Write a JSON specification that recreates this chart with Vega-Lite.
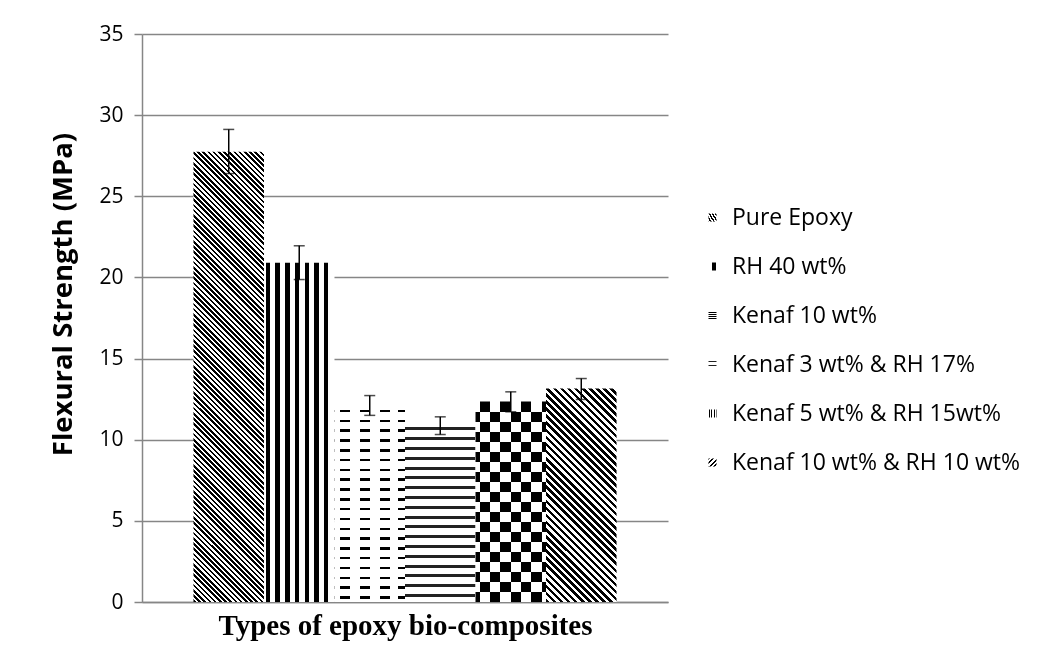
{
  "$schema": "https://vega.github.io/schema/vega-lite/v6.json",
  "autosize": {"type": "none"},
  "padding": {"left": 142, "top": 34, "right": 379, "bottom": 68},
  "width": 526,
  "height": 568,
  "background": "white",
  "config": {"view": {"stroke": null}, "font": "Open Sans"},
  "data": {
    "values": [
      {"Type": "Pure Epoxy", "Strength": 27.75, "Lower": 26.4, "Upper": 29.12},
      {"Type": "RH 40 wt%", "Strength": 20.9, "Lower": 19.87, "Upper": 21.95},
      {"Type": "Kenaf 10 wt%", "Strength": 12.08, "Lower": 11.5, "Upper": 12.72},
      {"Type": "Kenaf 3 wt% & RH 17%", "Strength": 10.87, "Lower": 10.32, "Upper": 11.41},
      {"Type": "Kenaf 5 wt% & RH 15wt%", "Strength": 12.35, "Lower": 11.72, "Upper": 12.95},
      {"Type": "Kenaf 10 wt% & RH 10 wt%", "Strength": 13.15, "Lower": 12.48, "Upper": 13.77}
    ]
  },
  "encoding": {
    "x": {
      "field": "Type",
      "type": "nominal",
      "sort": null,
      "scale": {"paddingInner": 0, "paddingOuter": 0.73},
      "axis": {
        "labels": false,
        "ticks": false,
        "domainColor": "#868686",
        "domainWidth": 1.5,
        "title": "Types of epoxy bio-composites",
        "titleFont": "Liberation Serif",
        "titleFontSize": 29,
        "titleFontWeight": "bold",
        "titleColor": "black",
        "titlePadding": 9
      }
    }
  },
  "layer": [
    {
      "mark": {"type": "bar"},
      "encoding": {
        "y": {
          "field": "Strength",
          "type": "quantitative",
          "scale": {"domain": [0, 35], "nice": false},
          "axis": {
            "values": [0, 5, 10, 15, 20, 25, 30, 35],
            "grid": true,
            "gridColor": "#868686",
            "gridWidth": 1.5,
            "domainColor": "#868686",
            "domainWidth": 1.5,
            "tickColor": "#868686",
            "tickWidth": 1.5,
            "tickSize": 8,
            "labelFontSize": 21,
            "labelColor": "black",
            "labelPadding": 11,
            "title": "Flexural Strength (MPa)",
            "titleFontSize": 27.5,
            "titleFontWeight": "bold",
            "titleColor": "black",
            "titlePadding": 21,
            "titleY": 260
          }
        },
        "fill": {
          "field": "Type",
          "type": "nominal",
          "sort": null,
          "scale": {
            "domain": ["Pure Epoxy", "RH 40 wt%", "Kenaf 10 wt%", "Kenaf 3 wt% & RH 17%", "Kenaf 5 wt% & RH 15wt%", "Kenaf 10 wt% & RH 10 wt%"],
            "range": [
              {"expr": "{gradient:'linear',x1:0,y1:1,x2:0.1767,y2:-0.1289,stops:[{offset:0,color:'#000'},{offset:0.005,color:'#000'},{offset:0.005,color:'#fff'},{offset:0.01,color:'#fff'},{offset:0.01,color:'#000'},{offset:0.015,color:'#000'},{offset:0.015,color:'#fff'},{offset:0.02,color:'#fff'},{offset:0.02,color:'#000'},{offset:0.025,color:'#000'},{offset:0.025,color:'#fff'},{offset:0.03,color:'#fff'},{offset:0.03,color:'#000'},{offset:0.035,color:'#000'},{offset:0.035,color:'#fff'},{offset:0.04,color:'#fff'},{offset:0.04,color:'#000'},{offset:0.045,color:'#000'},{offset:0.045,color:'#fff'},{offset:0.05,color:'#fff'},{offset:0.05,color:'#000'},{offset:0.055,color:'#000'},{offset:0.055,color:'#fff'},{offset:0.06,color:'#fff'},{offset:0.06,color:'#000'},{offset:0.065,color:'#000'},{offset:0.065,color:'#fff'},{offset:0.07,color:'#fff'},{offset:0.07,color:'#000'},{offset:0.075,color:'#000'},{offset:0.075,color:'#fff'},{offset:0.08,color:'#fff'},{offset:0.08,color:'#000'},{offset:0.085,color:'#000'},{offset:0.085,color:'#fff'},{offset:0.09,color:'#fff'},{offset:0.09,color:'#000'},{offset:0.095,color:'#000'},{offset:0.095,color:'#fff'},{offset:0.1,color:'#fff'},{offset:0.1,color:'#000'},{offset:0.105,color:'#000'},{offset:0.105,color:'#fff'},{offset:0.11,color:'#fff'},{offset:0.11,color:'#000'},{offset:0.115,color:'#000'},{offset:0.115,color:'#fff'},{offset:0.12,color:'#fff'},{offset:0.12,color:'#000'},{offset:0.125,color:'#000'},{offset:0.125,color:'#fff'},{offset:0.13,color:'#fff'},{offset:0.13,color:'#000'},{offset:0.135,color:'#000'},{offset:0.135,color:'#fff'},{offset:0.14,color:'#fff'},{offset:0.14,color:'#000'},{offset:0.145,color:'#000'},{offset:0.145,color:'#fff'},{offset:0.15,color:'#fff'},{offset:0.15,color:'#000'},{offset:0.155,color:'#000'},{offset:0.155,color:'#fff'},{offset:0.16,color:'#fff'},{offset:0.16,color:'#000'},{offset:0.165,color:'#000'},{offset:0.165,color:'#fff'},{offset:0.17,color:'#fff'},{offset:0.17,color:'#000'},{offset:0.175,color:'#000'},{offset:0.175,color:'#fff'},{offset:0.18,color:'#fff'},{offset:0.18,color:'#000'},{offset:0.185,color:'#000'},{offset:0.185,color:'#fff'},{offset:0.19,color:'#fff'},{offset:0.19,color:'#000'},{offset:0.195,color:'#000'},{offset:0.195,color:'#fff'},{offset:0.2,color:'#fff'},{offset:0.2,color:'#000'},{offset:0.205,color:'#000'},{offset:0.205,color:'#fff'},{offset:0.21,color:'#fff'},{offset:0.21,color:'#000'},{offset:0.215,color:'#000'},{offset:0.215,color:'#fff'},{offset:0.22,color:'#fff'},{offset:0.22,color:'#000'},{offset:0.225,color:'#000'},{offset:0.225,color:'#fff'},{offset:0.23,color:'#fff'},{offset:0.23,color:'#000'},{offset:0.235,color:'#000'},{offset:0.235,color:'#fff'},{offset:0.24,color:'#fff'},{offset:0.24,color:'#000'},{offset:0.245,color:'#000'},{offset:0.245,color:'#fff'},{offset:0.25,color:'#fff'},{offset:0.25,color:'#000'},{offset:0.255,color:'#000'},{offset:0.255,color:'#fff'},{offset:0.26,color:'#fff'},{offset:0.26,color:'#000'},{offset:0.265,color:'#000'},{offset:0.265,color:'#fff'},{offset:0.27,color:'#fff'},{offset:0.27,color:'#000'},{offset:0.275,color:'#000'},{offset:0.275,color:'#fff'},{offset:0.28,color:'#fff'},{offset:0.28,color:'#000'},{offset:0.285,color:'#000'},{offset:0.285,color:'#fff'},{offset:0.29,color:'#fff'},{offset:0.29,color:'#000'},{offset:0.295,color:'#000'},{offset:0.295,color:'#fff'},{offset:0.3,color:'#fff'},{offset:0.3,color:'#000'},{offset:0.305,color:'#000'},{offset:0.305,color:'#fff'},{offset:0.31,color:'#fff'},{offset:0.31,color:'#000'},{offset:0.315,color:'#000'},{offset:0.315,color:'#fff'},{offset:0.32,color:'#fff'},{offset:0.32,color:'#000'},{offset:0.325,color:'#000'},{offset:0.325,color:'#fff'},{offset:0.33,color:'#fff'},{offset:0.33,color:'#000'},{offset:0.335,color:'#000'},{offset:0.335,color:'#fff'},{offset:0.34,color:'#fff'},{offset:0.34,color:'#000'},{offset:0.345,color:'#000'},{offset:0.345,color:'#fff'},{offset:0.35,color:'#fff'},{offset:0.35,color:'#000'},{offset:0.355,color:'#000'},{offset:0.355,color:'#fff'},{offset:0.36,color:'#fff'},{offset:0.36,color:'#000'},{offset:0.365,color:'#000'},{offset:0.365,color:'#fff'},{offset:0.37,color:'#fff'},{offset:0.37,color:'#000'},{offset:0.375,color:'#000'},{offset:0.375,color:'#fff'},{offset:0.38,color:'#fff'},{offset:0.38,color:'#000'},{offset:0.385,color:'#000'},{offset:0.385,color:'#fff'},{offset:0.39,color:'#fff'},{offset:0.39,color:'#000'},{offset:0.395,color:'#000'},{offset:0.395,color:'#fff'},{offset:0.4,color:'#fff'},{offset:0.4,color:'#000'},{offset:0.405,color:'#000'},{offset:0.405,color:'#fff'},{offset:0.41,color:'#fff'},{offset:0.41,color:'#000'},{offset:0.415,color:'#000'},{offset:0.415,color:'#fff'},{offset:0.42,color:'#fff'},{offset:0.42,color:'#000'},{offset:0.425,color:'#000'},{offset:0.425,color:'#fff'},{offset:0.43,color:'#fff'},{offset:0.43,color:'#000'},{offset:0.435,color:'#000'},{offset:0.435,color:'#fff'},{offset:0.44,color:'#fff'},{offset:0.44,color:'#000'},{offset:0.445,color:'#000'},{offset:0.445,color:'#fff'},{offset:0.45,color:'#fff'},{offset:0.45,color:'#000'},{offset:0.455,color:'#000'},{offset:0.455,color:'#fff'},{offset:0.46,color:'#fff'},{offset:0.46,color:'#000'},{offset:0.465,color:'#000'},{offset:0.465,color:'#fff'},{offset:0.47,color:'#fff'},{offset:0.47,color:'#000'},{offset:0.475,color:'#000'},{offset:0.475,color:'#fff'},{offset:0.48,color:'#fff'},{offset:0.48,color:'#000'},{offset:0.485,color:'#000'},{offset:0.485,color:'#fff'},{offset:0.49,color:'#fff'},{offset:0.49,color:'#000'},{offset:0.495,color:'#000'},{offset:0.495,color:'#fff'},{offset:0.5,color:'#fff'},{offset:0.5,color:'#000'},{offset:0.505,color:'#000'},{offset:0.505,color:'#fff'},{offset:0.51,color:'#fff'},{offset:0.51,color:'#000'},{offset:0.515,color:'#000'},{offset:0.515,color:'#fff'},{offset:0.52,color:'#fff'},{offset:0.52,color:'#000'},{offset:0.525,color:'#000'},{offset:0.525,color:'#fff'},{offset:0.53,color:'#fff'},{offset:0.53,color:'#000'},{offset:0.535,color:'#000'},{offset:0.535,color:'#fff'},{offset:0.54,color:'#fff'},{offset:0.54,color:'#000'},{offset:0.545,color:'#000'},{offset:0.545,color:'#fff'},{offset:0.55,color:'#fff'},{offset:0.55,color:'#000'},{offset:0.555,color:'#000'},{offset:0.555,color:'#fff'},{offset:0.56,color:'#fff'},{offset:0.56,color:'#000'},{offset:0.565,color:'#000'},{offset:0.565,color:'#fff'},{offset:0.57,color:'#fff'},{offset:0.57,color:'#000'},{offset:0.575,color:'#000'},{offset:0.575,color:'#fff'},{offset:0.58,color:'#fff'},{offset:0.58,color:'#000'},{offset:0.585,color:'#000'},{offset:0.585,color:'#fff'},{offset:0.59,color:'#fff'},{offset:0.59,color:'#000'},{offset:0.595,color:'#000'},{offset:0.595,color:'#fff'},{offset:0.6,color:'#fff'},{offset:0.6,color:'#000'},{offset:0.605,color:'#000'},{offset:0.605,color:'#fff'},{offset:0.61,color:'#fff'},{offset:0.61,color:'#000'},{offset:0.615,color:'#000'},{offset:0.615,color:'#fff'},{offset:0.62,color:'#fff'},{offset:0.62,color:'#000'},{offset:0.625,color:'#000'},{offset:0.625,color:'#fff'},{offset:0.63,color:'#fff'},{offset:0.63,color:'#000'},{offset:0.635,color:'#000'},{offset:0.635,color:'#fff'},{offset:0.64,color:'#fff'},{offset:0.64,color:'#000'},{offset:0.645,color:'#000'},{offset:0.645,color:'#fff'},{offset:0.65,color:'#fff'},{offset:0.65,color:'#000'},{offset:0.655,color:'#000'},{offset:0.655,color:'#fff'},{offset:0.66,color:'#fff'},{offset:0.66,color:'#000'},{offset:0.665,color:'#000'},{offset:0.665,color:'#fff'},{offset:0.67,color:'#fff'},{offset:0.67,color:'#000'},{offset:0.675,color:'#000'},{offset:0.675,color:'#fff'},{offset:0.68,color:'#fff'},{offset:0.68,color:'#000'},{offset:0.685,color:'#000'},{offset:0.685,color:'#fff'},{offset:0.69,color:'#fff'},{offset:0.69,color:'#000'},{offset:0.695,color:'#000'},{offset:0.695,color:'#fff'},{offset:0.7,color:'#fff'},{offset:0.7,color:'#000'},{offset:0.705,color:'#000'},{offset:0.705,color:'#fff'},{offset:0.71,color:'#fff'},{offset:0.71,color:'#000'},{offset:0.715,color:'#000'},{offset:0.715,color:'#fff'},{offset:0.72,color:'#fff'},{offset:0.72,color:'#000'},{offset:0.725,color:'#000'},{offset:0.725,color:'#fff'},{offset:0.73,color:'#fff'},{offset:0.73,color:'#000'},{offset:0.735,color:'#000'},{offset:0.735,color:'#fff'},{offset:0.74,color:'#fff'},{offset:0.74,color:'#000'},{offset:0.745,color:'#000'},{offset:0.745,color:'#fff'},{offset:0.75,color:'#fff'},{offset:0.75,color:'#000'},{offset:0.755,color:'#000'},{offset:0.755,color:'#fff'},{offset:0.76,color:'#fff'},{offset:0.76,color:'#000'},{offset:0.765,color:'#000'},{offset:0.765,color:'#fff'},{offset:0.77,color:'#fff'},{offset:0.77,color:'#000'},{offset:0.775,color:'#000'},{offset:0.775,color:'#fff'},{offset:0.78,color:'#fff'},{offset:0.78,color:'#000'},{offset:0.785,color:'#000'},{offset:0.785,color:'#fff'},{offset:0.79,color:'#fff'},{offset:0.79,color:'#000'},{offset:0.795,color:'#000'},{offset:0.795,color:'#fff'},{offset:0.8,color:'#fff'},{offset:0.8,color:'#000'},{offset:0.805,color:'#000'},{offset:0.805,color:'#fff'},{offset:0.81,color:'#fff'},{offset:0.81,color:'#000'},{offset:0.815,color:'#000'},{offset:0.815,color:'#fff'},{offset:0.82,color:'#fff'},{offset:0.82,color:'#000'},{offset:0.825,color:'#000'},{offset:0.825,color:'#fff'},{offset:0.83,color:'#fff'},{offset:0.83,color:'#000'},{offset:0.835,color:'#000'},{offset:0.835,color:'#fff'},{offset:0.84,color:'#fff'},{offset:0.84,color:'#000'},{offset:0.845,color:'#000'},{offset:0.845,color:'#fff'},{offset:0.85,color:'#fff'},{offset:0.85,color:'#000'},{offset:0.855,color:'#000'},{offset:0.855,color:'#fff'},{offset:0.86,color:'#fff'},{offset:0.86,color:'#000'},{offset:0.865,color:'#000'},{offset:0.865,color:'#fff'},{offset:0.87,color:'#fff'},{offset:0.87,color:'#000'},{offset:0.875,color:'#000'},{offset:0.875,color:'#fff'},{offset:0.88,color:'#fff'},{offset:0.88,color:'#000'},{offset:0.885,color:'#000'},{offset:0.885,color:'#fff'},{offset:0.89,color:'#fff'},{offset:0.89,color:'#000'},{offset:0.895,color:'#000'},{offset:0.895,color:'#fff'},{offset:0.9,color:'#fff'},{offset:0.9,color:'#000'},{offset:0.905,color:'#000'},{offset:0.905,color:'#fff'},{offset:0.91,color:'#fff'},{offset:0.91,color:'#000'},{offset:0.915,color:'#000'},{offset:0.915,color:'#fff'},{offset:0.92,color:'#fff'},{offset:0.92,color:'#000'},{offset:0.925,color:'#000'},{offset:0.925,color:'#fff'},{offset:0.93,color:'#fff'},{offset:0.93,color:'#000'},{offset:0.935,color:'#000'},{offset:0.935,color:'#fff'},{offset:0.94,color:'#fff'},{offset:0.94,color:'#000'},{offset:0.945,color:'#000'},{offset:0.945,color:'#fff'},{offset:0.95,color:'#fff'},{offset:0.95,color:'#000'},{offset:0.955,color:'#000'},{offset:0.955,color:'#fff'},{offset:0.96,color:'#fff'},{offset:0.96,color:'#000'},{offset:0.965,color:'#000'},{offset:0.965,color:'#fff'},{offset:0.97,color:'#fff'},{offset:0.97,color:'#000'},{offset:0.975,color:'#000'},{offset:0.975,color:'#fff'},{offset:0.98,color:'#fff'},{offset:0.98,color:'#000'},{offset:0.985,color:'#000'},{offset:0.985,color:'#fff'},{offset:0.99,color:'#fff'},{offset:0.99,color:'#000'},{offset:0.995,color:'#000'},{offset:0.995,color:'#fff'},{offset:1,color:'#fff'}]}"},
              {"expr": "{gradient:'linear',x1:0,y1:0,x2:1,y2:0,stops:[{offset:0,color:'#fff'},{offset:0.024,color:'#fff'},{offset:0.024,color:'#000'},{offset:0.087,color:'#000'},{offset:0.087,color:'#fff'},{offset:0.162,color:'#fff'},{offset:0.162,color:'#000'},{offset:0.225,color:'#000'},{offset:0.225,color:'#fff'},{offset:0.3,color:'#fff'},{offset:0.3,color:'#000'},{offset:0.363,color:'#000'},{offset:0.363,color:'#fff'},{offset:0.438,color:'#fff'},{offset:0.438,color:'#000'},{offset:0.501,color:'#000'},{offset:0.501,color:'#fff'},{offset:0.576,color:'#fff'},{offset:0.576,color:'#000'},{offset:0.639,color:'#000'},{offset:0.639,color:'#fff'},{offset:0.714,color:'#fff'},{offset:0.714,color:'#000'},{offset:0.777,color:'#000'},{offset:0.777,color:'#fff'},{offset:0.852,color:'#fff'},{offset:0.852,color:'#000'},{offset:0.915,color:'#000'},{offset:0.915,color:'#fff'},{offset:1,color:'#fff'}]}"},
              {"expr": "{gradient:'linear',x1:0,y1:0,x2:0,y2:1,stops:[{offset:0,color:'#fff'},{offset:0.02,color:'#fff'},{offset:0.02,color:'#000'},{offset:0.0325,color:'#000'},{offset:0.0325,color:'#fff'},{offset:0.07,color:'#fff'},{offset:0.07,color:'#000'},{offset:0.0825,color:'#000'},{offset:0.0825,color:'#fff'},{offset:0.12,color:'#fff'},{offset:0.12,color:'#000'},{offset:0.1325,color:'#000'},{offset:0.1325,color:'#fff'},{offset:0.17,color:'#fff'},{offset:0.17,color:'#000'},{offset:0.1825,color:'#000'},{offset:0.1825,color:'#fff'},{offset:0.22,color:'#fff'},{offset:0.22,color:'#000'},{offset:0.2325,color:'#000'},{offset:0.2325,color:'#fff'},{offset:0.27,color:'#fff'},{offset:0.27,color:'#000'},{offset:0.2825,color:'#000'},{offset:0.2825,color:'#fff'},{offset:0.32,color:'#fff'},{offset:0.32,color:'#000'},{offset:0.3325,color:'#000'},{offset:0.3325,color:'#fff'},{offset:0.37,color:'#fff'},{offset:0.37,color:'#000'},{offset:0.3825,color:'#000'},{offset:0.3825,color:'#fff'},{offset:0.42,color:'#fff'},{offset:0.42,color:'#000'},{offset:0.4325,color:'#000'},{offset:0.4325,color:'#fff'},{offset:0.47,color:'#fff'},{offset:0.47,color:'#000'},{offset:0.4825,color:'#000'},{offset:0.4825,color:'#fff'},{offset:0.52,color:'#fff'},{offset:0.52,color:'#000'},{offset:0.5325,color:'#000'},{offset:0.5325,color:'#fff'},{offset:0.57,color:'#fff'},{offset:0.57,color:'#000'},{offset:0.5825,color:'#000'},{offset:0.5825,color:'#fff'},{offset:0.62,color:'#fff'},{offset:0.62,color:'#000'},{offset:0.6325,color:'#000'},{offset:0.6325,color:'#fff'},{offset:0.67,color:'#fff'},{offset:0.67,color:'#000'},{offset:0.6825,color:'#000'},{offset:0.6825,color:'#fff'},{offset:0.72,color:'#fff'},{offset:0.72,color:'#000'},{offset:0.7325,color:'#000'},{offset:0.7325,color:'#fff'},{offset:0.77,color:'#fff'},{offset:0.77,color:'#000'},{offset:0.7825,color:'#000'},{offset:0.7825,color:'#fff'},{offset:0.82,color:'#fff'},{offset:0.82,color:'#000'},{offset:0.8325,color:'#000'},{offset:0.8325,color:'#fff'},{offset:0.87,color:'#fff'},{offset:0.87,color:'#000'},{offset:0.8825,color:'#000'},{offset:0.8825,color:'#fff'},{offset:0.92,color:'#fff'},{offset:0.92,color:'#000'},{offset:0.9325,color:'#000'},{offset:0.9325,color:'#fff'},{offset:0.97,color:'#fff'},{offset:0.97,color:'#000'},{offset:0.9825,color:'#000'},{offset:0.9825,color:'#fff'},{offset:1,color:'#fff'}]}"},
              {"expr": "{gradient:'linear',x1:0,y1:0,x2:0,y2:1,stops:[{offset:0,color:'#fff'},{offset:0.01,color:'#fff'},{offset:0.01,color:'#222'},{offset:0.027,color:'#222'},{offset:0.027,color:'#fff'},{offset:0.0656,color:'#fff'},{offset:0.0656,color:'#222'},{offset:0.0826,color:'#222'},{offset:0.0826,color:'#fff'},{offset:0.1211,color:'#fff'},{offset:0.1211,color:'#222'},{offset:0.1381,color:'#222'},{offset:0.1381,color:'#fff'},{offset:0.1767,color:'#fff'},{offset:0.1767,color:'#222'},{offset:0.1937,color:'#222'},{offset:0.1937,color:'#fff'},{offset:0.2322,color:'#fff'},{offset:0.2322,color:'#222'},{offset:0.2492,color:'#222'},{offset:0.2492,color:'#fff'},{offset:0.2878,color:'#fff'},{offset:0.2878,color:'#222'},{offset:0.3048,color:'#222'},{offset:0.3048,color:'#fff'},{offset:0.3433,color:'#fff'},{offset:0.3433,color:'#222'},{offset:0.3603,color:'#222'},{offset:0.3603,color:'#fff'},{offset:0.3989,color:'#fff'},{offset:0.3989,color:'#222'},{offset:0.4159,color:'#222'},{offset:0.4159,color:'#fff'},{offset:0.4544,color:'#fff'},{offset:0.4544,color:'#222'},{offset:0.4714,color:'#222'},{offset:0.4714,color:'#fff'},{offset:0.51,color:'#fff'},{offset:0.51,color:'#222'},{offset:0.527,color:'#222'},{offset:0.527,color:'#fff'},{offset:0.5656,color:'#fff'},{offset:0.5656,color:'#222'},{offset:0.5826,color:'#222'},{offset:0.5826,color:'#fff'},{offset:0.6211,color:'#fff'},{offset:0.6211,color:'#222'},{offset:0.6381,color:'#222'},{offset:0.6381,color:'#fff'},{offset:0.6767,color:'#fff'},{offset:0.6767,color:'#222'},{offset:0.6937,color:'#222'},{offset:0.6937,color:'#fff'},{offset:0.7322,color:'#fff'},{offset:0.7322,color:'#222'},{offset:0.7492,color:'#222'},{offset:0.7492,color:'#fff'},{offset:0.7878,color:'#fff'},{offset:0.7878,color:'#222'},{offset:0.8048,color:'#222'},{offset:0.8048,color:'#fff'},{offset:0.8433,color:'#fff'},{offset:0.8433,color:'#222'},{offset:0.8603,color:'#222'},{offset:0.8603,color:'#fff'},{offset:0.8989,color:'#fff'},{offset:0.8989,color:'#222'},{offset:0.9159,color:'#222'},{offset:0.9159,color:'#fff'},{offset:0.9544,color:'#fff'},{offset:0.9544,color:'#222'},{offset:0.9714,color:'#222'},{offset:0.9714,color:'#fff'},{offset:1,color:'#fff'}]}"},
              {"expr": "{gradient:'linear',x1:0,y1:0,x2:1,y2:0,stops:[{offset:0,color:'#fff'},{offset:0.06,color:'#fff'},{offset:0.06,color:'#000'},{offset:0.2,color:'#000'},{offset:0.2,color:'#fff'},{offset:0.35,color:'#fff'},{offset:0.35,color:'#000'},{offset:0.5,color:'#000'},{offset:0.5,color:'#fff'},{offset:0.65,color:'#fff'},{offset:0.65,color:'#000'},{offset:0.79,color:'#000'},{offset:0.79,color:'#fff'},{offset:0.94,color:'#fff'},{offset:0.94,color:'#000'},{offset:1,color:'#000'}]}"},
              {"expr": "{gradient:'linear',x1:0,y1:1,x2:0.3963,y2:-0.1995,stops:[{offset:0,color:'#000'},{offset:0.0125,color:'#000'},{offset:0.0125,color:'#fff'},{offset:0.025,color:'#fff'},{offset:0.025,color:'#000'},{offset:0.0375,color:'#000'},{offset:0.0375,color:'#fff'},{offset:0.05,color:'#fff'},{offset:0.05,color:'#000'},{offset:0.0625,color:'#000'},{offset:0.0625,color:'#fff'},{offset:0.075,color:'#fff'},{offset:0.075,color:'#000'},{offset:0.0875,color:'#000'},{offset:0.0875,color:'#fff'},{offset:0.1,color:'#fff'},{offset:0.1,color:'#000'},{offset:0.1125,color:'#000'},{offset:0.1125,color:'#fff'},{offset:0.125,color:'#fff'},{offset:0.125,color:'#000'},{offset:0.1375,color:'#000'},{offset:0.1375,color:'#fff'},{offset:0.15,color:'#fff'},{offset:0.15,color:'#000'},{offset:0.1625,color:'#000'},{offset:0.1625,color:'#fff'},{offset:0.175,color:'#fff'},{offset:0.175,color:'#000'},{offset:0.1875,color:'#000'},{offset:0.1875,color:'#fff'},{offset:0.2,color:'#fff'},{offset:0.2,color:'#000'},{offset:0.2125,color:'#000'},{offset:0.2125,color:'#fff'},{offset:0.225,color:'#fff'},{offset:0.225,color:'#000'},{offset:0.2375,color:'#000'},{offset:0.2375,color:'#fff'},{offset:0.25,color:'#fff'},{offset:0.25,color:'#000'},{offset:0.2625,color:'#000'},{offset:0.2625,color:'#fff'},{offset:0.275,color:'#fff'},{offset:0.275,color:'#000'},{offset:0.2875,color:'#000'},{offset:0.2875,color:'#fff'},{offset:0.3,color:'#fff'},{offset:0.3,color:'#000'},{offset:0.3125,color:'#000'},{offset:0.3125,color:'#fff'},{offset:0.325,color:'#fff'},{offset:0.325,color:'#000'},{offset:0.3375,color:'#000'},{offset:0.3375,color:'#fff'},{offset:0.35,color:'#fff'},{offset:0.35,color:'#000'},{offset:0.3625,color:'#000'},{offset:0.3625,color:'#fff'},{offset:0.375,color:'#fff'},{offset:0.375,color:'#000'},{offset:0.3875,color:'#000'},{offset:0.3875,color:'#fff'},{offset:0.4,color:'#fff'},{offset:0.4,color:'#000'},{offset:0.4125,color:'#000'},{offset:0.4125,color:'#fff'},{offset:0.425,color:'#fff'},{offset:0.425,color:'#000'},{offset:0.4375,color:'#000'},{offset:0.4375,color:'#fff'},{offset:0.45,color:'#fff'},{offset:0.45,color:'#000'},{offset:0.4625,color:'#000'},{offset:0.4625,color:'#fff'},{offset:0.475,color:'#fff'},{offset:0.475,color:'#000'},{offset:0.4875,color:'#000'},{offset:0.4875,color:'#fff'},{offset:0.5,color:'#fff'},{offset:0.5,color:'#000'},{offset:0.5125,color:'#000'},{offset:0.5125,color:'#fff'},{offset:0.525,color:'#fff'},{offset:0.525,color:'#000'},{offset:0.5375,color:'#000'},{offset:0.5375,color:'#fff'},{offset:0.55,color:'#fff'},{offset:0.55,color:'#000'},{offset:0.5625,color:'#000'},{offset:0.5625,color:'#fff'},{offset:0.575,color:'#fff'},{offset:0.575,color:'#000'},{offset:0.5875,color:'#000'},{offset:0.5875,color:'#fff'},{offset:0.6,color:'#fff'},{offset:0.6,color:'#000'},{offset:0.6125,color:'#000'},{offset:0.6125,color:'#fff'},{offset:0.625,color:'#fff'},{offset:0.625,color:'#000'},{offset:0.6375,color:'#000'},{offset:0.6375,color:'#fff'},{offset:0.65,color:'#fff'},{offset:0.65,color:'#000'},{offset:0.6625,color:'#000'},{offset:0.6625,color:'#fff'},{offset:0.675,color:'#fff'},{offset:0.675,color:'#000'},{offset:0.6875,color:'#000'},{offset:0.6875,color:'#fff'},{offset:0.7,color:'#fff'},{offset:0.7,color:'#000'},{offset:0.7125,color:'#000'},{offset:0.7125,color:'#fff'},{offset:0.725,color:'#fff'},{offset:0.725,color:'#000'},{offset:0.7375,color:'#000'},{offset:0.7375,color:'#fff'},{offset:0.75,color:'#fff'},{offset:0.75,color:'#000'},{offset:0.7625,color:'#000'},{offset:0.7625,color:'#fff'},{offset:0.775,color:'#fff'},{offset:0.775,color:'#000'},{offset:0.7875,color:'#000'},{offset:0.7875,color:'#fff'},{offset:0.8,color:'#fff'},{offset:0.8,color:'#000'},{offset:0.8125,color:'#000'},{offset:0.8125,color:'#fff'},{offset:0.825,color:'#fff'},{offset:0.825,color:'#000'},{offset:0.8375,color:'#000'},{offset:0.8375,color:'#fff'},{offset:0.85,color:'#fff'},{offset:0.85,color:'#000'},{offset:0.8625,color:'#000'},{offset:0.8625,color:'#fff'},{offset:0.875,color:'#fff'},{offset:0.875,color:'#000'},{offset:0.8875,color:'#000'},{offset:0.8875,color:'#fff'},{offset:0.9,color:'#fff'},{offset:0.9,color:'#000'},{offset:0.9125,color:'#000'},{offset:0.9125,color:'#fff'},{offset:0.925,color:'#fff'},{offset:0.925,color:'#000'},{offset:0.9375,color:'#000'},{offset:0.9375,color:'#fff'},{offset:0.95,color:'#fff'},{offset:0.95,color:'#000'},{offset:0.9625,color:'#000'},{offset:0.9625,color:'#fff'},{offset:0.975,color:'#fff'},{offset:0.975,color:'#000'},{offset:0.9875,color:'#000'},{offset:0.9875,color:'#fff'},{offset:1,color:'#fff'}]}"}
            ]
          },
          "legend": {
            "orient": "none",
            "legendX": 559,
            "legendY": 172,
            "title": null,
            "labelFont": "Open Sans",
            "labelFontSize": 23,
            "labelColor": "black",
            "labelLimit": 400,
            "symbolType": "square",
            "symbolSize": 64,
            "symbolStrokeWidth": 0,
            "rowPadding": 25,
            "labelOffset": 8
          }
        }
      }
    },
    {
      "transform": [{"filter": "datum.Type === 'Kenaf 10 wt%'"}],
      "mark": {
        "type": "bar",
        "blend": "lighten",
        "fill": {
          "gradient": "linear",
          "x1": 0, "y1": 0, "x2": 1, "y2": 0,
          "stops": [
            {"offset": 0, "color": "#fff"}, {"offset": 0.085, "color": "#fff"},
            {"offset": 0.085, "color": "#000"}, {"offset": 0.225, "color": "#000"},
            {"offset": 0.225, "color": "#fff"}, {"offset": 0.366, "color": "#fff"},
            {"offset": 0.366, "color": "#000"}, {"offset": 0.507, "color": "#000"},
            {"offset": 0.507, "color": "#fff"}, {"offset": 0.648, "color": "#fff"},
            {"offset": 0.648, "color": "#000"}, {"offset": 0.789, "color": "#000"},
            {"offset": 0.789, "color": "#fff"}, {"offset": 0.906, "color": "#fff"},
            {"offset": 0.906, "color": "#000"}, {"offset": 1, "color": "#000"}
          ]
        }
      },
      "encoding": {
        "y": {"field": "Strength", "type": "quantitative"}
      }
    },
    {
      "transform": [{"filter": "datum.Type === 'Kenaf 5 wt% & RH 15wt%'"}],
      "mark": {
        "type": "bar",
        "blend": "difference",
        "fill": {
          "gradient": "linear",
          "x1": 0, "y1": 0, "x2": 0, "y2": 1,
          "stops": [
            {"offset": 0, "color": "#000"}, {"offset": 0.05, "color": "#000"},
            {"offset": 0.05, "color": "#fff"}, {"offset": 0.1, "color": "#fff"},
            {"offset": 0.1, "color": "#000"}, {"offset": 0.15, "color": "#000"},
            {"offset": 0.15, "color": "#fff"}, {"offset": 0.2, "color": "#fff"},
            {"offset": 0.2, "color": "#000"}, {"offset": 0.25, "color": "#000"},
            {"offset": 0.25, "color": "#fff"}, {"offset": 0.3, "color": "#fff"},
            {"offset": 0.3, "color": "#000"}, {"offset": 0.35, "color": "#000"},
            {"offset": 0.35, "color": "#fff"}, {"offset": 0.4, "color": "#fff"},
            {"offset": 0.4, "color": "#000"}, {"offset": 0.45, "color": "#000"},
            {"offset": 0.45, "color": "#fff"}, {"offset": 0.5, "color": "#fff"},
            {"offset": 0.5, "color": "#000"}, {"offset": 0.55, "color": "#000"},
            {"offset": 0.55, "color": "#fff"}, {"offset": 0.6, "color": "#fff"},
            {"offset": 0.6, "color": "#000"}, {"offset": 0.65, "color": "#000"},
            {"offset": 0.65, "color": "#fff"}, {"offset": 0.7, "color": "#fff"},
            {"offset": 0.7, "color": "#000"}, {"offset": 0.75, "color": "#000"},
            {"offset": 0.75, "color": "#fff"}, {"offset": 0.8, "color": "#fff"},
            {"offset": 0.8, "color": "#000"}, {"offset": 0.85, "color": "#000"},
            {"offset": 0.85, "color": "#fff"}, {"offset": 0.9, "color": "#fff"},
            {"offset": 0.9, "color": "#000"}, {"offset": 0.95, "color": "#000"},
            {"offset": 0.95, "color": "#fff"}, {"offset": 1, "color": "#fff"}
          ]
        }
      },
      "encoding": {
        "y": {"field": "Strength", "type": "quantitative"}
      }
    },
    {
      "mark": {"type": "rule", "color": "black", "strokeWidth": 1.5},
      "encoding": {
        "y": {"field": "Lower", "type": "quantitative"},
        "y2": {"field": "Upper"}
      }
    },
    {
      "mark": {"type": "tick", "color": "black", "size": 11, "thickness": 1.5},
      "encoding": {
        "y": {"field": "Upper", "type": "quantitative"}
      }
    },
    {
      "mark": {"type": "tick", "color": "black", "size": 11, "thickness": 1.5},
      "encoding": {
        "y": {"field": "Lower", "type": "quantitative"}
      }
    }
  ]
}
